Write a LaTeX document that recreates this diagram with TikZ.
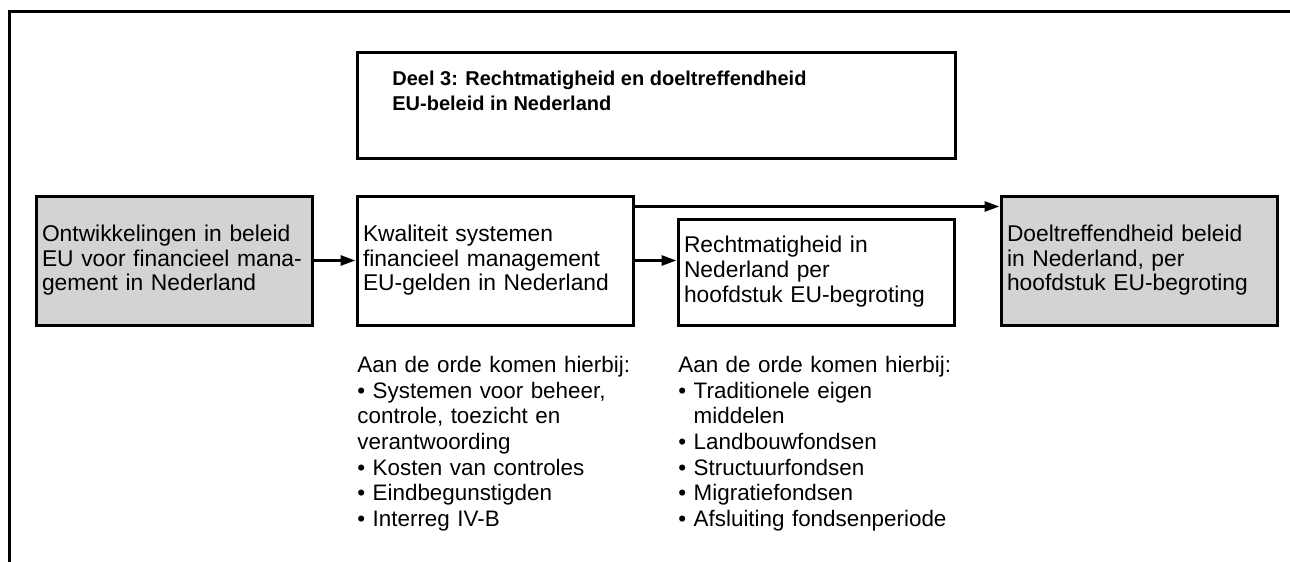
\documentclass[tikz,border=0pt]{standalone}
\usepackage{fontspec}
\setmainfont{Liberation Sans}
\usetikzlibrary{arrows.meta}
\definecolor{blokgrijs}{RGB}{209,211,212}

\begin{document}
\begin{tikzpicture}[x=0.5pt, y=-0.5pt,
		blok/.style={draw, line width=1.5pt, text width=132pt, inner xsep=3pt, minimum height=64.5pt, align=left, font=\fontsize{11.4}{12.25}\selectfont},
		grijsblok/.style={blok, fill=blokgrijs},
		titel/.style={anchor=north west, inner sep=0pt, align=left, font=\bfseries\fontsize{10}{12.5}\selectfont},
		lijst/.style={anchor=north west, inner sep=0pt, text width=145pt, align=left, font=\fontsize{11.2}{12.8}\selectfont},
		pijl/.style={line width=1.4pt, -{Triangle[length=7.5pt, width=5pt]}}]
			%%%%% START %%%%%
			
			\useasboundingbox (0, 0) rectangle (1290, 562);
			\draw[line width=1.5pt] (9, 562) -- (9, 11) -- (1290, 11);
			
			\node[draw, line width=1.5pt, minimum width=299pt, minimum height=53pt] (deel) at (656, 105) {};
			\node[titel] (deeltitel) at (392, 71) {Deel 3: Rechtmatigheid en doeltreffendheid\\EU-beleid in Nederland};
			
			\node[grijsblok] (ontw) at (174, 260.5) {Ontwikkelingen in beleid\\EU voor financieel mana-\\gement in Nederland};
			\node[blok] (kwal) at (495, 260.5) {Kwaliteit systemen\\financieel management\\EU-gelden in Nederland};
			\node[blok, minimum height=53pt, font=\fontsize{11.4}{12.5}\selectfont] (recht) at (816, 272) {Rechtmatigheid in\\Nederland per\\hoofdstuk EU-begroting};
			\node[grijsblok] (doel) at (1139, 260.5) {Doeltreffendheid beleid\\in Nederland, per\\hoofdstuk EU-begroting};
			
			\draw[pijl] (ontw.east) -- (kwal.west);
			\draw[pijl] (kwal.east) -- (kwal.east -| recht.west);
			\draw[pijl] ([yshift=-6pt]kwal.north east) -- ([yshift=-6pt]kwal.north east -| doel.west);
			
			\node[lijst] (lijstkwal) at (357, 356) {Aan de orde komen hierbij:\\• Systemen voor beheer,\\controle, toezicht en\\verantwoording\\• Kosten van controles\\• Eindbegunstigden\\• Interreg IV-B};
			\node[lijst] (lijstrecht) at (678, 356) {Aan de orde komen hierbij:\\• Traditionele eigen\\\hphantom{•\ }middelen\\• Landbouwfondsen\\• Structuurfondsen\\• Migratiefondsen\\• Afsluiting fondsenperiode};
			
			%%%%% END %%%%%
		\end{tikzpicture}
\end{document}
